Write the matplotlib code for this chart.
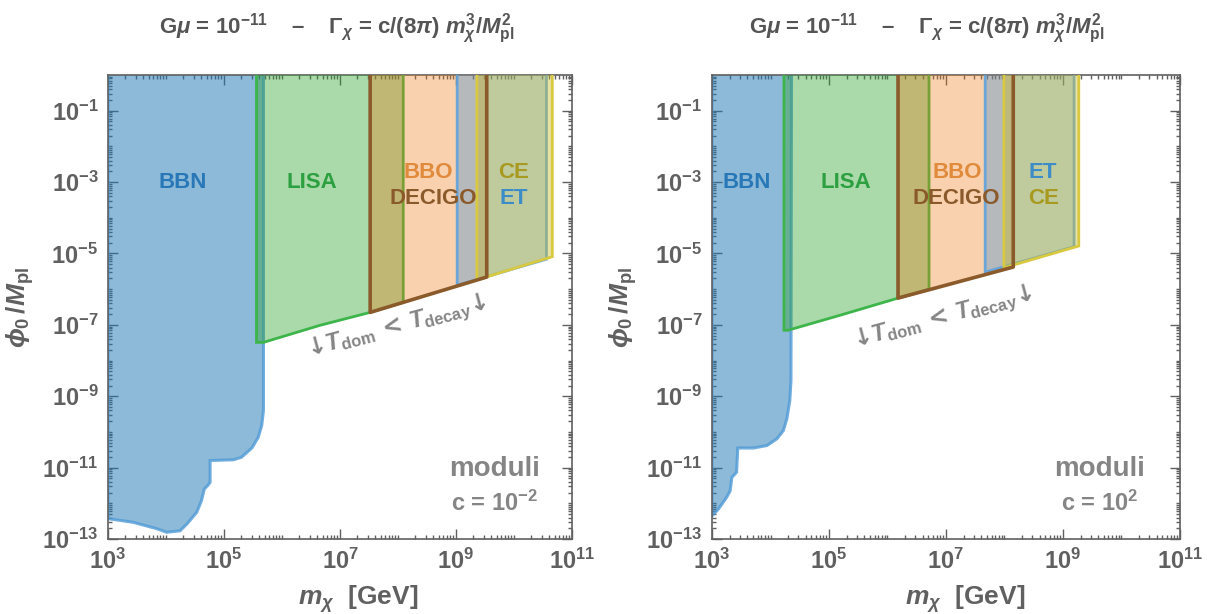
import numpy as np
import matplotlib
matplotlib.use("Agg")
import matplotlib.pyplot as plt
from matplotlib.colors import to_rgba
from matplotlib.ticker import FixedLocator, FuncFormatter, NullFormatter

plt.rcParams["font.family"] = ["Liberation Sans", "DejaVu Sans"]
plt.rcParams["font.weight"] = "bold"
plt.rcParams["mathtext.fontset"] = "custom"
plt.rcParams["mathtext.rm"] = "Liberation Sans:bold"
plt.rcParams["mathtext.it"] = "Liberation Sans:bold:italic"
plt.rcParams["mathtext.bf"] = "Liberation Sans:bold"

# --- data (log10 m_chi [GeV], log10 phi0/Mpl) ---
# panel 1: c = 1e-2
bbn1_logm = [3.0, 3.43, 3.84, 4.01, 4.24, 4.36, 4.53, 4.61, 4.66, 4.73, 4.76, 4.76,
             5.16, 5.3, 5.48, 5.59, 5.65, 5.68, 5.68]
bbn1_logphi = [-12.43, -12.53, -12.71, -12.81, -12.77, -12.58, -12.25, -11.93, -11.6,
               -11.48, -11.41, -10.8, -10.78, -10.71, -10.45, -10.15, -9.82, -9.4, 1.0]
lisa1_logm = [5.56, 5.68, 6.66, 7.52, 8.09]
lisa1_logphi = [-7.49, -7.49, -7.01, -6.65, -6.37]
decigo1_logm = [7.52, 9.53]
decigo1_logphi = [-6.65, -5.66]
et1_logm = [9.02, 10.56]
et1_logphi = [-5.89, -5.16]
ce1_logm = [9.36, 10.66]
ce1_logphi = [-5.74, -5.09]

# panel 2: c = 1e2
bbn2_logm = [3.0, 3.11, 3.25, 3.31, 3.34, 3.42, 3.44, 3.71, 3.94, 4.11, 4.22, 4.28,
             4.33, 4.35, 4.36]
bbn2_logphi = [-12.35, -12.16, -11.83, -11.65, -11.27, -11.13, -10.45, -10.45, -10.38,
               -10.19, -9.96, -9.63, -9.12, -8.56, 1.0]
lisa2_logm = [4.23, 4.30, 5.19, 6.18, 6.71]
lisa2_logphi = [-7.15, -7.15, -6.73, -6.25, -6.0]
decigo2_logm = [6.18, 8.15]
decigo2_logphi = [-6.25, -5.38]
et2_logm = [7.67, 9.19]
et2_logphi = [-5.52, -4.81]
ce2_logm = [7.99, 9.27]
ce2_logphi = [-5.40, -4.79]

c_labels = [r"c = 10$^{-2}$", r"c = 10$^{2}$"]
x_tick_exps = [3, 5, 7, 9, 11]
y_tick_exps = [-13, -11, -9, -7, -5, -3, -1]

blue = "#1f77b4"
green = "#2ca02c"
orange = "#ff7f0e"
brown = "#8b5a2b"
etblue = "#3a8fd8"
ceyellow = "#c8b820"
grey = "#606060"
lgrey = "#858585"
TOP = 10.0


def band(logm, logphi):
    # closed polygon: lower edge from the list, then straight up to the top
    xs = [10 ** v for v in logm]
    ys = [10 ** v for v in logphi]
    xs = [xs[0]] + xs + [xs[-1]]
    ys = [TOP] + ys + [TOP]
    return xs, ys


def draw_panel(ax, bbn, lisa, decigo, et, ce, labels, tdom, moduli_x, ctext):
    x, y = band(*bbn)
    x = [1e3] + x[1:]
    ax.fill(x + [1e3], y + [TOP], facecolor=to_rgba(blue, 0.5),
            edgecolor=to_rgba("#4f9ad6", 0.8), lw=2.2, zorder=2)
    x, y = band(*lisa)
    ax.fill(x, y, facecolor=to_rgba(green, 0.4), edgecolor=to_rgba("#3db54a", 1.0),
            lw=2, zorder=3)
    x, y = band(*decigo)
    ax.fill(x, y, facecolor=to_rgba(orange, 0.3), edgecolor="none", zorder=4)
    ax.fill(x, y, facecolor=to_rgba(brown, 0.05), edgecolor="none", zorder=4)
    x, y = band(*et)
    ax.fill(x, y, facecolor=to_rgba(etblue, 0.35), edgecolor=to_rgba("#5fa2dc", 0.9),
            lw=2, zorder=5)
    x, y = band(*ce)
    ax.fill(x, y, facecolor=to_rgba(ceyellow, 0.4), edgecolor=to_rgba("#d8c940", 1.0),
            lw=2, zorder=6)
    x, y = band(*decigo)
    ax.fill(x, y, facecolor="none", edgecolor=brown, lw=2.6, joinstyle="round", zorder=7)

    for txt, lx, ly, col in labels:
        ax.text(10 ** lx, 10 ** ly, txt, color=col, fontsize=16, fontweight="bold",
                ha="center", va="center", zorder=10)

    ax.text(10 ** tdom[0], 10 ** tdom[1],
            "\u2193" + r"$T_{\rm dom}$ < $T_{\rm decay}$" + "\u2193",
            family=["DejaVu Sans"], color=lgrey, fontsize=17, fontweight="bold",
            rotation=15, ha="center", va="center", zorder=10)
    ax.text(10 ** moduli_x, 10 ** -11.03, "moduli", color=lgrey, fontsize=20,
            fontweight="bold", ha="center", va="center")
    ax.text(10 ** moduli_x, 10 ** -12.0, ctext, color=lgrey, fontsize=17,
            fontweight="bold", ha="center", va="center")

    ax.set_xscale("log")
    ax.set_yscale("log")
    ax.set_xlim(1e3, 1e11)
    ax.set_ylim(1e-13, 1)

    ax.xaxis.set_major_locator(FixedLocator([10.0 ** e for e in x_tick_exps]))
    ax.yaxis.set_major_locator(FixedLocator([10.0 ** e for e in y_tick_exps]))
    xminor = [k * 10.0 ** e for e in range(3, 11) for k in range(1, 10)]
    yminor = [k * 10.0 ** e for e in range(-13, 0) for k in range(1, 10)]
    ax.xaxis.set_minor_locator(FixedLocator(xminor))
    ax.yaxis.set_minor_locator(FixedLocator(yminor))
    fmt = FuncFormatter(lambda v, p: r"$10^{%d}$" % round(np.log10(v)))
    ax.xaxis.set_major_formatter(fmt)
    ax.yaxis.set_major_formatter(fmt)
    ax.xaxis.set_minor_formatter(NullFormatter())
    ax.yaxis.set_minor_formatter(NullFormatter())
    ax.tick_params(which="both", direction="in", top=True, right=True, color=grey,
                   labelcolor=grey, labelsize=17, width=1)
    ax.tick_params(which="major", length=7, pad=7)
    ax.tick_params(which="minor", length=3)
    for s in ax.spines.values():
        s.set_color(grey)
        s.set_linewidth(1.2)

    ax.set_xlabel(r"$m_\chi$  [GeV]", color=grey, fontsize=19, fontweight="bold",
                  va="center")
    ax.xaxis.set_label_coords(0.54, -0.13)
    ax.set_ylabel(r"$\phi_0\,/M_{\rm pl}$", color=grey, fontsize=19, va="center")
    ax.yaxis.set_label_coords(-0.19, 0.5)


fig = plt.figure(figsize=(12.07, 6.14), dpi=100)
ax1 = fig.add_axes([0.0895, 0.1221, 0.3844, 0.7557])
ax2 = fig.add_axes([0.5899, 0.1221, 0.3877, 0.7557])

draw_panel(
    ax1,
    (bbn1_logm, bbn1_logphi), (lisa1_logm, lisa1_logphi), (decigo1_logm, decigo1_logphi),
    (et1_logm, et1_logphi), (ce1_logm, ce1_logphi),
    [("BBN", 4.29, -3.0, "#2878b8"), ("LISA", 6.52, -3.0, "#2ca040"),
     ("BBO", 8.52, -2.74, "#e08a3c"), ("DECIGO", 8.6, -3.47, "#8b5a2b"),
     ("CE", 10.0, -2.74, "#a89a20"), ("ET", 10.0, -3.47, "#3c8cc8")],
    (7.98, -7.07), 9.67, c_labels[0],
)
draw_panel(
    ax2,
    (bbn2_logm, bbn2_logphi), (lisa2_logm, lisa2_logphi), (decigo2_logm, decigo2_logphi),
    (et2_logm, et2_logphi), (ce2_logm, ce2_logphi),
    [("BBN", 3.6, -3.0, "#2878b8"), ("LISA", 5.29, -3.0, "#2ca040"),
     ("BBO", 7.19, -2.74, "#e08a3c"), ("DECIGO", 7.17, -3.47, "#8b5a2b"),
     ("ET", 8.66, -2.74, "#3c8cc8"), ("CE", 8.66, -3.47, "#a89a20")],
    (6.95, -6.81), 9.63, c_labels[1],
)

title = (r"G$\mu$ = 10$^{-11}$    –    $\Gamma_\chi$ = c/(8$\pi$) "
         r"$m_\chi^3/M_{\rm pl}^2$")
fig.text(0.279, 0.953, title, color="#555555", fontsize=16, fontweight="bold",
         ha="center", va="center")
fig.text(0.768, 0.953, title, color="#555555", fontsize=16, fontweight="bold",
         ha="center", va="center")

fig.savefig("out.png", dpi=100)
